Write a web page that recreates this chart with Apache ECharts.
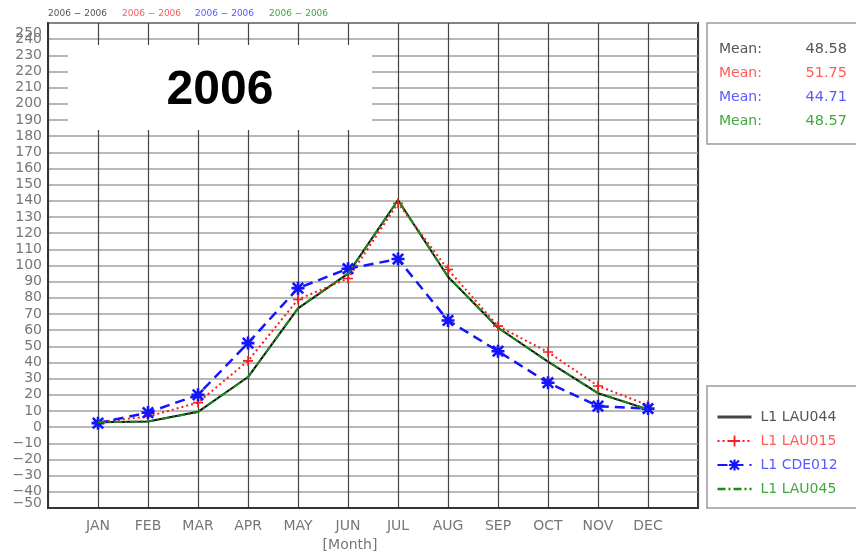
<!DOCTYPE html>
<html>
<head>
<meta charset="utf-8">
<script src="https://cdn.jsdelivr.net/npm/echarts@6/dist/echarts.min.js"></script>
<style>
  html, body { margin: 0; padding: 0; background: #fff; }
  #chart { width: 856px; height: 555px; }
</style>
</head>
<body>
<div id="chart"></div>
<script>
// Monthly values, 2006
const months = ['JAN', 'FEB', 'MAR', 'APR', 'MAY', 'JUN', 'JUL', 'AUG', 'SEP', 'OCT', 'NOV', 'DEC'];
const seriesNames = ['L1 LAU044', 'L1 LAU015', 'L1 CDE012', 'L1 LAU045'];
const lau044 = [3, 3.5, 9.5, 31, 73.5, 95, 140.5, 93, 61.5, 40.5, 21, 11];
const lau015 = [3.1, 6.6, 15.2, 41, 79, 92, 138.5, 97.5, 62.5, 46.5, 25.5, 13.6];
const cde012 = [2.5, 9, 20, 52, 86, 98, 104, 66, 47, 27.5, 13, 11.5];
const lau045 = [3, 3.5, 9.3, 31, 73.5, 95, 140.5, 93, 61.5, 40.5, 21, 11];
const yMin = -50, yMax = 250, yStep = 10;
const periodLabel = '2006 \u2212 2006';
const yearTitle = '2006';
const axisName = '[Month]';

const FONT = 'DejaVu Sans';
const LABEL_COLOR = '#777';
const lineColors = ['#111111', '#ff1a1a', '#1414ff', '#1a8a1a'];
const textColors = ['#555555', '#ff5a5a', '#5a5aff', '#40a840'];

// empty category at each end gives half-open margins around JAN and DEC
const cats = [''].concat(months, ['']);
const pad = arr => ['-'].concat(arr, ['-']);
const mean = arr => arr.reduce((a, b) => a + b, 0) / arr.length;
const allSeries = [lau044, lau015, cde012, lau045];

const PLUS = 'path://M4.2,0H5.8V4.2H10V5.8H5.8V10H4.2V5.8H0V4.2H4.2Z';
const STAR = 'path://M4,0H6V10H4Z M0,4H10V6H0Z M1.7,0.3L9.7,8.3L8.3,9.7L0.3,1.7Z M8.3,0.3L9.7,1.7L1.7,9.7L0.3,8.3Z';

const fmtTick = v => (v < 0 ? '\u2212' + Math.abs(v) : String(v));
const isEnd = v => v === yMin || v === yMax;

const graphics = [];
// period labels across the top
const periodX = [48, 122, 195, 269];
periodX.forEach((x, i) => {
  graphics.push({
    type: 'text', x: x, y: 14, z: 20,
    style: { text: periodLabel, fill: textColors[i], font: '9px "' + FONT + '"', textVerticalAlign: 'middle' }
  });
});
// year title panel
graphics.push({ type: 'rect', z: 20, shape: { x: 68, y: 45, width: 304, height: 85 }, style: { fill: '#ffffff' } });
graphics.push({
  type: 'text', x: 220, y: 91, z: 21,
  style: { text: yearTitle, fill: '#000', font: 'bold 48px "Liberation Sans"', textAlign: 'center', textVerticalAlign: 'middle' }
});
// mean box
graphics.push({ type: 'rect', z: 20, shape: { x: 707, y: 23, width: 160, height: 121 }, style: { fill: '#fff', stroke: '#9a9a9a', lineWidth: 1.5 } });
const meanRowY = [49, 73, 97, 121];
allSeries.forEach((arr, i) => {
  graphics.push({
    type: 'text', x: 719, y: meanRowY[i], z: 21,
    style: { text: 'Mean:', fill: textColors[i], font: '14px "' + FONT + '"', textVerticalAlign: 'middle' }
  });
  graphics.push({
    type: 'text', x: 847, y: meanRowY[i], z: 21,
    style: { text: mean(arr).toFixed(2), fill: textColors[i], font: '14.5px "' + FONT + '"', textAlign: 'right', textVerticalAlign: 'middle' }
  });
});
// legend frame
graphics.push({ type: 'rect', z: 0, shape: { x: 707, y: 386, width: 160, height: 122 }, style: { fill: '#fff', stroke: '#9a9a9a', lineWidth: 1.5 } });
// x axis title
graphics.push({
  type: 'text', x: 350, y: 545, z: 20,
  style: { text: axisName, fill: LABEL_COLOR, font: '14px "' + FONT + '"', textAlign: 'center', textVerticalAlign: 'middle' }
});

const baseLabel = { color: LABEL_COLOR, fontFamily: FONT, fontSize: 14, lineHeight: 14 };

const chart = echarts.init(document.getElementById('chart'), null, { renderer: 'canvas' });
chart.setOption({
  animation: false,
  backgroundColor: '#fff',
  grid: {
    left: 48, right: 158, top: 23, bottom: 47,
    show: true, borderColor: '#333', borderWidth: 2,
    containLabel: false, outerBoundsMode: 'none'
  },
  xAxis: {
    type: 'category',
    data: cats,
    boundaryGap: false,
    axisLine: { show: true, onZero: false, lineStyle: { color: '#333', width: 2 } },
    axisTick: { show: false },
    splitLine: { show: true, interval: 0, lineStyle: { color: '#444', width: 1.2 } },
    axisLabel: { interval: 0, color: LABEL_COLOR, fontFamily: FONT, fontSize: 14, margin: 11 }
  },
  yAxis: [
    {
      // main value axis: grid lines and inner tick labels
      type: 'value',
      min: yMin, max: yMax, interval: yStep,
      axisLine: { show: true, onZero: false, lineStyle: { color: '#333', width: 2 } },
      axisTick: { show: false },
      splitLine: { show: true, lineStyle: { color: '#a0a0a0', width: 1.5 } },
      axisLabel: Object.assign({}, baseLabel, {
        margin: 6, hideOverlap: false,
        formatter: v => (isEnd(v) ? '' : fmtTick(v))
      })
    },
    {
      // end labels, nudged inward to sit inside the frame
      type: 'value', position: 'left',
      min: yMin, max: yMax, interval: yStep,
      axisLine: { show: false }, axisTick: { show: false }, splitLine: { show: false },
      axisLabel: Object.assign({}, baseLabel, {
        margin: 6, customValues: [yMin, yMax], hideOverlap: false,
        formatter: v => {
          if (v === yMax) return '{hi|' + fmtTick(v) + '}';
          if (v === yMin) return '{lo|' + fmtTick(v) + '}';
          return '';
        },
        rich: {
          hi: Object.assign({}, baseLabel, { padding: [20, 0, 0, 0] }),
          lo: Object.assign({}, baseLabel, { padding: [0, 0, 9, 0] })
        }
      })
    }
  ],
  legend: {
    orient: 'vertical',
    left: 711, top: 405,
    itemWidth: 34, itemHeight: 14, itemGap: 10,
    selectedMode: false,
    textStyle: { fontFamily: FONT, fontSize: 14, padding: [0, 0, 0, 4] },
    data: seriesNames.map((n, i) => {
      const item = { name: n, textStyle: { color: textColors[i] } };
      if (i === 0) { item.itemStyle = { opacity: 0 }; item.lineStyle = { width: 3, color: '#444' }; }
      if (i === 3) { item.itemStyle = { opacity: 0 }; item.lineStyle = { width: 2.5 }; }
      return item;
    })
  },
  series: [
    {
      name: seriesNames[0], type: 'line', data: pad(lau044), symbol: 'none',
      lineStyle: { color: lineColors[0], width: 2 }, itemStyle: { color: lineColors[0] }, z: 2
    },
    {
      name: seriesNames[1], type: 'line', data: pad(lau015), symbol: PLUS, symbolSize: 10,
      lineStyle: { color: lineColors[1], width: 2, type: [2, 3] }, itemStyle: { color: lineColors[1] }, z: 3
    },
    {
      name: seriesNames[2], type: 'line', data: pad(cde012), symbol: STAR, symbolSize: 13,
      lineStyle: { color: lineColors[2], width: 2.5, type: [10, 6] }, itemStyle: { color: lineColors[2] }, z: 4
    },
    {
      name: seriesNames[3], type: 'line', data: pad(lau045), symbol: 'none',
      lineStyle: { color: lineColors[3], width: 2, type: [8, 3, 2, 3] }, itemStyle: { color: lineColors[3] }, z: 5
    }
  ],
  graphic: graphics
});
</script>
</body>
</html>
